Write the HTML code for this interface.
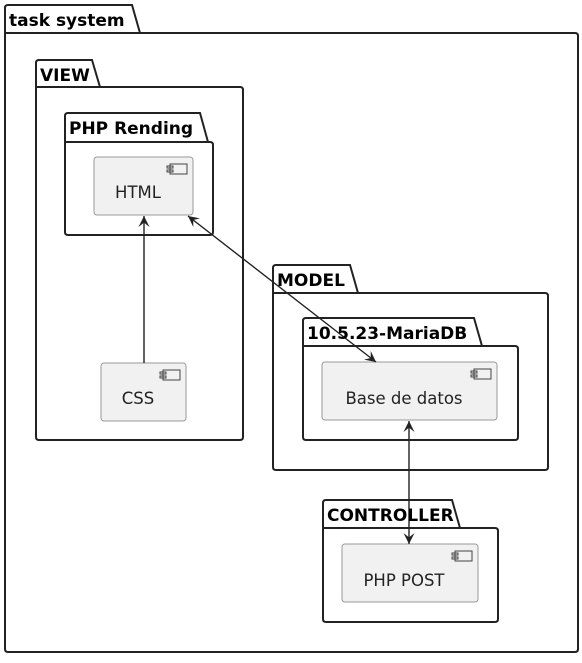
<!DOCTYPE html><html><head><style>body{margin:0;background:#fff}</style></head><body>
<svg width="582" height="658" xmlns="http://www.w3.org/2000/svg" font-family="DejaVu Sans, Liberation Sans, sans-serif">
<defs><marker id="a" viewBox="0 0 10 10" refX="10" refY="5" markerWidth="11" markerHeight="11" orient="auto-start-reverse" markerUnits="userSpaceOnUse"><path d="M0,0 L10,5 L0,10 L4,5 Z" fill="#222"/></marker></defs>
<g fill="none" stroke="#222" stroke-width="2">
<path d="M5,33 V8 Q5,5 8,5 H132 L140,33 H575 Q578,33 578,36 V649 Q578,652 575,652 H8 Q5,652 5,649 Z"/><line x1="5" y1="33" x2="140" y2="33"/>
<path d="M36,87 V63 Q36,60 39,60 H92 L100,87 H240 Q243,87 243,90 V437 Q243,440 240,440 H39 Q36,440 36,437 Z"/><line x1="36" y1="87" x2="100" y2="87"/>
<path d="M65,142 V116 Q65,113 68,113 H200 L208,142 H210 Q213,142 213,145 V232 Q213,235 210,235 H68 Q65,235 65,232 Z"/><line x1="65" y1="142" x2="208" y2="142"/>
<path d="M273,293 V268 Q273,265 276,265 H350 L358,293 H545 Q548,293 548,296 V467 Q548,470 545,470 H276 Q273,470 273,467 Z"/><line x1="273" y1="293" x2="358" y2="293"/>
<path d="M303,346 V321 Q303,318 306,318 H474 L482,346 H515 Q518,346 518,349 V437 Q518,440 515,440 H306 Q303,440 303,437 Z"/><line x1="303" y1="346" x2="482" y2="346"/>
<path d="M323,528 V503 Q323,500 326,500 H452 L460,528 H495 Q498,528 498,531 V619 Q498,622 495,622 H326 Q323,622 323,619 Z"/><line x1="323" y1="528" x2="460" y2="528"/>
</g>
<g fill="#f1f1f1" stroke="#999" stroke-width="1">
<rect x="94" y="157" width="99" height="58" rx="3"/>
<rect x="101" y="363" width="85" height="58" rx="3"/>
<rect x="322" y="362" width="175" height="58" rx="3"/>
<rect x="342" y="544" width="136" height="58" rx="3"/>
</g>
<g fill="none" stroke="#444" stroke-width="1">
<rect x="170" y="164" width="17" height="10"/><rect x="167" y="166" width="6" height="2"/><rect x="167" y="170" width="6" height="2"/>
<rect x="163" y="370" width="17" height="10"/><rect x="160" y="372" width="6" height="2"/><rect x="160" y="376" width="6" height="2"/>
<rect x="474" y="369" width="17" height="10"/><rect x="471" y="371" width="6" height="2"/><rect x="471" y="375" width="6" height="2"/>
<rect x="455" y="551" width="17" height="10"/><rect x="452" y="553" width="6" height="2"/><rect x="452" y="557" width="6" height="2"/>
</g>
<g stroke="#222" stroke-width="1.4">
<line x1="144" y1="363" x2="144" y2="216" marker-end="url(#a)"/>
<line x1="188" y1="216" x2="376" y2="362" marker-start="url(#a)" marker-end="url(#a)"/>
<line x1="409" y1="421" x2="409" y2="544" marker-start="url(#a)" marker-end="url(#a)"/>
</g>
<g font-weight="bold" font-size="17" fill="#000">
<text x="9" y="26">task system</text><text x="40" y="81">VIEW</text><text x="69" y="134">PHP Rending</text>
<text x="277" y="286">MODEL</text><text x="307" y="339">10.5.23-MariaDB</text><text x="327" y="521">CONTROLLER</text>
</g>
<g font-size="16.5" fill="#222" text-anchor="middle">
<text x="138" y="198">HTML</text><text x="138" y="404">CSS</text><text x="404" y="404">Base de datos</text><text x="404" y="586">PHP POST</text>
</g>
</svg></body></html>
